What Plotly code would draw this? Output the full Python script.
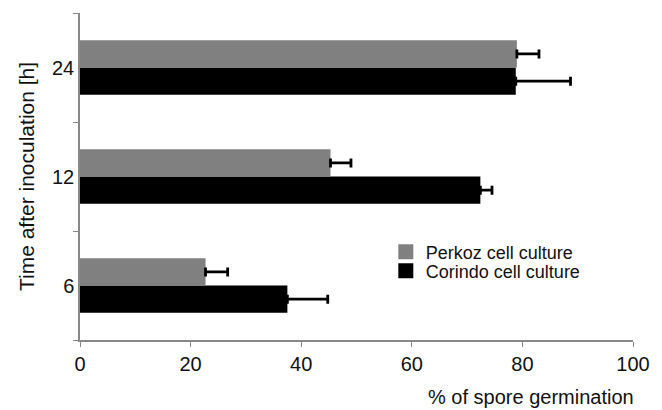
import plotly.graph_objects as go

categories = ["6", "12", "24"]
perkoz = [22.7, 45.3, 79.0]
perkoz_err = [4.0, 3.7, 4.0]
corindo = [37.5, 72.4, 78.8]
corindo_err = [7.3, 2.1, 9.9]
x_ticks = [0, 20, 40, 60, 80, 100]

font = "Liberation Sans, Arial, sans-serif"
GRAY = "#808080"
BLACK = "#000000"

fig = go.Figure()
fig.add_trace(go.Bar(
    y=categories, x=corindo, orientation="h", name="Corindo cell culture",
    marker=dict(color=BLACK, line=dict(width=0)),
    error_x=dict(type="data", array=corindo_err, symmetric=False, arrayminus=[0]*3,
                 color=BLACK, thickness=2.8, width=4.5),
    showlegend=False,
))
fig.add_trace(go.Bar(
    y=categories, x=perkoz, orientation="h", name="Perkoz cell culture",
    marker=dict(color=GRAY, line=dict(width=0)),
    error_x=dict(type="data", array=perkoz_err, symmetric=False, arrayminus=[0]*3,
                 color=BLACK, thickness=2.8, width=4.5),
    showlegend=False,
))
# legend entries (square swatches), one legend each to control spacing
fig.add_trace(go.Scatter(x=[None], y=[None], mode="markers", name="Perkoz cell culture",
                         marker=dict(symbol="square", size=15, color=GRAY), legend="legend"))
fig.add_trace(go.Scatter(x=[None], y=[None], mode="markers", name="Corindo cell culture",
                         marker=dict(symbol="square", size=15, color=BLACK), legend="legend2"))

leg_common = dict(xanchor="left", yanchor="middle", font=dict(size=18, color="#111111"),
                  bgcolor="rgba(0,0,0,0)", itemwidth=30, itemsizing="trace")

fig.update_layout(
    width=662, height=410,
    margin=dict(l=80, r=29, t=13, b=70),
    plot_bgcolor="white", paper_bgcolor="white",
    barmode="group", bargap=0.5, bargroupgap=0,
    font=dict(family=font, size=17, color="#111111"),
    showlegend=True,
    legend=dict(x=0.553, y=0.269, **leg_common),
    legend2=dict(x=0.553, y=0.211, **leg_common),
    annotations=[dict(text="% of spore germination", xref="paper", yref="paper",
                      x=0.815, y=-0.174, xanchor="center", yanchor="middle",
                      showarrow=False, font=dict(size=20, color="#111111"))],
)
fig.update_xaxes(range=[0, 100], tickvals=x_ticks, showgrid=False, zeroline=False,
                 showline=True, linecolor="#888888", linewidth=1.5,
                 ticks="outside", ticklen=5, tickcolor="#888888",
                 tickfont=dict(size=20))
fig.update_yaxes(type="category", categoryorder="array", categoryarray=categories,
                 range=[-0.5, 2.5], showgrid=False, zeroline=False,
                 showline=True, linecolor="#888888", linewidth=1.5,
                 ticks="outside", ticklen=5, tickcolor="#888888", tickson="boundaries",
                 tickfont=dict(size=20),
                 title=dict(text="Time after inoculation [h]", font=dict(size=21), standoff=12))

fig.write_html("out.html")
